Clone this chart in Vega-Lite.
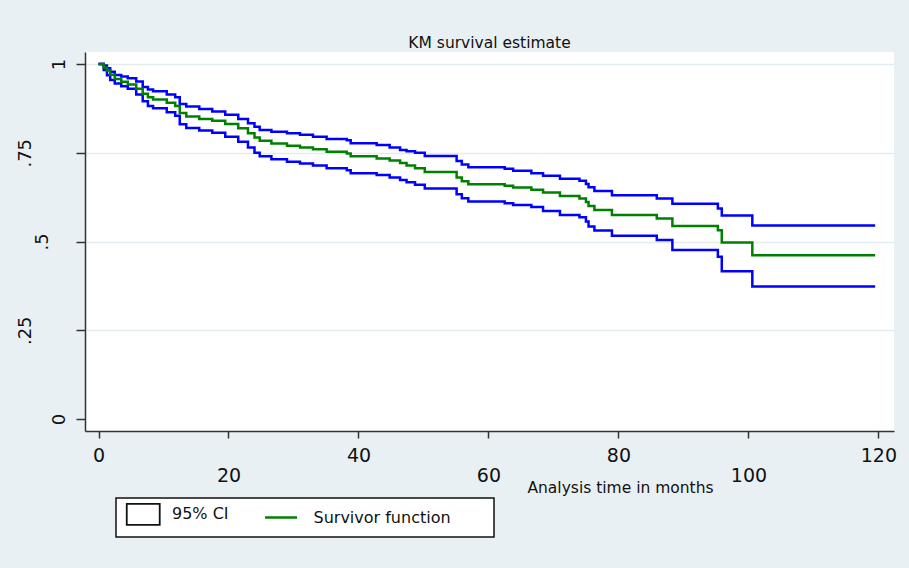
{
  "$schema": "https://vega.github.io/schema/vega-lite/v6.json",
  "width": 809,
  "height": 379,
  "autosize": {"type": "none"},
  "padding": {"left": 85, "top": 52, "right": 15, "bottom": 137},
  "background": "#e9f0f3",
  "title": {"text": "KM survival estimate", "fontSize": 15.5, "font": "DejaVu Sans", "fontWeight": "normal", "color": "#111111", "anchor": "middle", "offset": 1},
  "config": {"view": {"fill": "white", "stroke": null}, "font": "DejaVu Sans"},
  "data": {"values": [
    {"t": 0.0, "hi": 1.0, "s": 1.0, "lo": 1.0},
    {"t": 0.8, "hi": 0.996, "s": 0.99, "lo": 0.983},
    {"t": 1.3, "hi": 0.988, "s": 0.982, "lo": 0.968},
    {"t": 1.8, "hi": 0.978, "s": 0.97, "lo": 0.955},
    {"t": 2.5, "hi": 0.969, "s": 0.958, "lo": 0.945},
    {"t": 3.5, "hi": 0.965, "s": 0.95, "lo": 0.937},
    {"t": 4.5, "hi": 0.96, "s": 0.942, "lo": 0.93},
    {"t": 5.8, "hi": 0.951, "s": 0.93, "lo": 0.914},
    {"t": 6.8, "hi": 0.935, "s": 0.916, "lo": 0.895},
    {"t": 7.6, "hi": 0.928, "s": 0.906, "lo": 0.882},
    {"t": 8.4, "hi": 0.923, "s": 0.9, "lo": 0.875},
    {"t": 10.5, "hi": 0.914, "s": 0.891, "lo": 0.864},
    {"t": 11.8, "hi": 0.906, "s": 0.882, "lo": 0.854},
    {"t": 12.5, "hi": 0.887, "s": 0.862, "lo": 0.83},
    {"t": 13.5, "hi": 0.88, "s": 0.852, "lo": 0.82},
    {"t": 15.5, "hi": 0.873, "s": 0.845, "lo": 0.813},
    {"t": 17.5, "hi": 0.866, "s": 0.84, "lo": 0.806},
    {"t": 19.5, "hi": 0.857, "s": 0.831, "lo": 0.795},
    {"t": 21.5, "hi": 0.845, "s": 0.819, "lo": 0.781},
    {"t": 23.0, "hi": 0.833, "s": 0.805, "lo": 0.765},
    {"t": 24.0, "hi": 0.823, "s": 0.793, "lo": 0.75},
    {"t": 24.8, "hi": 0.814, "s": 0.784, "lo": 0.74},
    {"t": 26.6, "hi": 0.809, "s": 0.776, "lo": 0.732},
    {"t": 29.0, "hi": 0.805, "s": 0.77, "lo": 0.725},
    {"t": 31.0, "hi": 0.801, "s": 0.765, "lo": 0.72},
    {"t": 33.0, "hi": 0.795, "s": 0.76, "lo": 0.714},
    {"t": 35.1, "hi": 0.789, "s": 0.753, "lo": 0.706},
    {"t": 38.2, "hi": 0.785, "s": 0.748, "lo": 0.701},
    {"t": 38.8, "hi": 0.777, "s": 0.74, "lo": 0.692},
    {"t": 42.8, "hi": 0.772, "s": 0.734, "lo": 0.687},
    {"t": 44.8, "hi": 0.765, "s": 0.728, "lo": 0.68},
    {"t": 46.4, "hi": 0.758, "s": 0.721, "lo": 0.673},
    {"t": 47.4, "hi": 0.754, "s": 0.714, "lo": 0.667},
    {"t": 48.7, "hi": 0.75, "s": 0.706, "lo": 0.66},
    {"t": 50.2, "hi": 0.741, "s": 0.696, "lo": 0.649},
    {"t": 55.1, "hi": 0.727, "s": 0.68, "lo": 0.633},
    {"t": 55.9, "hi": 0.717, "s": 0.67, "lo": 0.622},
    {"t": 56.9, "hi": 0.709, "s": 0.661, "lo": 0.613},
    {"t": 62.5, "hi": 0.705, "s": 0.657, "lo": 0.608},
    {"t": 63.8, "hi": 0.699, "s": 0.652, "lo": 0.603},
    {"t": 66.6, "hi": 0.692, "s": 0.646, "lo": 0.597},
    {"t": 68.4, "hi": 0.685, "s": 0.638, "lo": 0.586},
    {"t": 71.0, "hi": 0.677, "s": 0.628, "lo": 0.575},
    {"t": 74.0, "hi": 0.671, "s": 0.621, "lo": 0.568},
    {"t": 75.0, "hi": 0.662, "s": 0.611, "lo": 0.556},
    {"t": 75.4, "hi": 0.653, "s": 0.6, "lo": 0.542},
    {"t": 76.3, "hi": 0.642, "s": 0.589, "lo": 0.531},
    {"t": 79.0, "hi": 0.63, "s": 0.575, "lo": 0.516},
    {"t": 85.9, "hi": 0.621, "s": 0.565, "lo": 0.504},
    {"t": 88.3, "hi": 0.606, "s": 0.544, "lo": 0.476},
    {"t": 95.3, "hi": 0.593, "s": 0.532, "lo": 0.457},
    {"t": 95.9, "hi": 0.573, "s": 0.497, "lo": 0.416},
    {"t": 100.6, "hi": 0.545, "s": 0.461, "lo": 0.373},
    {"t": 119.5, "hi": 0.545, "s": 0.461, "lo": 0.373}
  ]},
  "layer": [
    {
      "transform": [{"fold": ["hi", "lo"], "as": ["bound", "S"]}],
      "mark": {"type": "line", "interpolate": "step-after", "strokeWidth": 2.5, "stroke": "#0000ff"},
      "encoding": {
        "x": {
          "field": "t", "type": "quantitative",
          "scale": {"domain": [-2.08, 122.4], "nice": false, "zero": false},
          "axis": {
            "values": [0, 20, 40, 60, 80, 100, 120],
            "title": "Analysis time in months",
            "titleX": 535, "titleY": 56, "titleAlign": "center", "titleBaseline": "middle",
            "titleFontSize": 15.5, "titleFontWeight": "normal", "titleColor": "#111111", "titleFont": "DejaVu Sans",
            "labelExpr": "datum.value % 40 == 20 ? ['', datum.label] : datum.label",
            "labelLineHeight": 20, "labelBaseline": "top", "labelAlign": "center",
            "labelFontSize": 19, "labelFont": "DejaVu Sans", "labelColor": "#111111",
            "labelPadding": 8, "labelOverlap": false, "labelFlush": false,
            "tickSize": 7, "tickWidth": 1.5, "tickColor": "#333333",
            "domainColor": "#333333", "domainWidth": 1.5, "grid": false
          }
        },
        "y": {
          "field": "S", "type": "quantitative",
          "scale": {"domain": [-0.0338, 1.0338], "nice": false, "zero": false},
          "axis": {
            "values": [0, 0.25, 0.5, 0.75, 1],
            "title": null,
            "labelExpr": "datum.value == 0 ? ['', '\u2800', '0'] : datum.value == 1 ? ['', '\u2800', '1'] : datum.value == 0.5 ? ['', '.5'] : datum.value == 0.25 ? '.25' : '.75'",
            "labelLineHeight": 17,
            "labelAngle": -90, "labelAlign": "center", "labelBaseline": "alphabetic",
            "labelFontSize": 18, "labelFont": "DejaVu Sans", "labelColor": "#111111",
            "labelPadding": 46, "labelOverlap": false,
            "tickSize": 9, "tickWidth": 1.5, "tickColor": "#333333",
            "domainColor": "#333333", "domainWidth": 1.5,
            "grid": true, "gridWidth": 1.5,
            "gridColor": {"condition": {"test": "datum.value == 0", "value": "transparent"}, "value": "#e2ecf0"}
          }
        },
        "detail": {"field": "bound"}
      }
    },
    {
      "mark": {"type": "line", "interpolate": "step-after", "strokeWidth": 2.5},
      "encoding": {
        "x": {"field": "t", "type": "quantitative"},
        "y": {"field": "s", "type": "quantitative"},
        "color": {
          "datum": "Survivor function",
          "scale": {"domain": ["95% CI", "Survivor function"], "range": ["#111111", "#008000"]},
          "legend": {
            "orient": "none", "legendX": 31, "legendY": 446, "direction": "horizontal",
            "title": null, "fillColor": "white", "strokeColor": "#111111", "padding": 8,
            "symbolSize": 441, "labelOffset": 32, "columnPadding": 30.5,
            "labelFontSize": 16, "labelFont": "DejaVu Sans", "labelColor": "#111111", "labelLimit": 400,
            "labelExpr": "datum.label == '95% CI' ? datum.label : datum.label + '\u2800\u2800\u2800'",
            "encode": {
              "legend": {"update": {"strokeWidth": {"value": 1.5}}},
              "symbols": {"update": {
                "shape": {"signal": "datum.value == '95% CI' ? 'M-0.5,-1H2.64V1H-0.5Z' : 'M-0.8,0H2.24'"},
                "fill": {"signal": "datum.value == '95% CI' ? 'white' : 'transparent'"},
                "stroke": {"signal": "datum.value == '95% CI' ? '#111111' : '#008000'"},
                "strokeWidth": {"signal": "datum.value == '95% CI' ? 1.8 : 2.5"},
                "opacity": {"value": 1}
              }}
            }
          }
        }
      }
    }
  ]
}
